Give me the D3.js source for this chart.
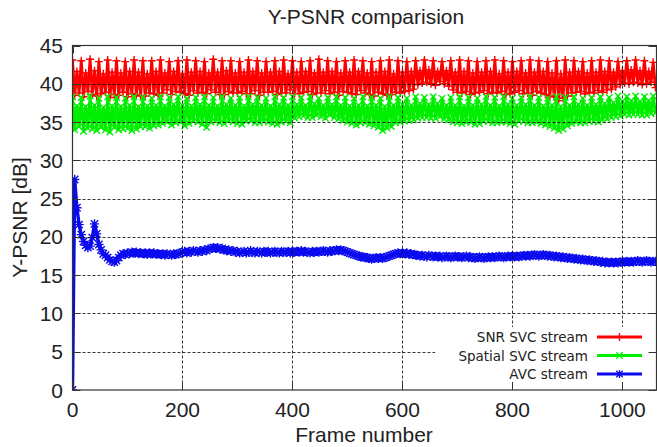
<!DOCTYPE html>
<html>
<head>
<meta charset="utf-8">
<script src="https://cdn.jsdelivr.net/npm/d3@7"></script>
<style>
  body { margin: 0; background: #fff; }
  svg { display: block; font-family: "Liberation Sans", Arial, sans-serif; }
</style>
</head>
<body>
<div id="chart"></div>
<script>
// one sample every 4 frames, frame = 4 * index
const frameStep = 4;

const snrSvc = [
  43.1, 38.5, 41.6, 38.8,  43.0, 38.3, 41.4, 39.0,  43.2, 38.6, 41.7, 38.4,  42.9, 38.7, 41.3, 38.9,
  43.1, 38.2, 41.5, 38.6,  43.0, 38.5, 41.4, 38.9,  42.9, 38.3, 41.6, 38.7,  43.1, 38.6, 41.5, 38.4,
  43.0, 38.4, 41.3, 38.8,  43.0, 38.7, 41.6, 38.5,  43.1, 38.8, 41.4, 39.2,  42.9, 38.6, 41.6, 39.0,
  43.0, 38.9, 41.3, 38.7,  43.1, 38.5, 41.5, 39.1,  43.0, 38.8, 41.6, 38.9,  42.9, 38.7, 41.4, 39.2,
  43.2, 38.9, 41.5, 38.6,  43.0, 38.6, 41.7, 39.0,  43.0, 38.8, 41.4, 38.8,  42.9, 39.0, 41.5, 38.7,
  43.1, 38.7, 41.6, 39.1,  43.0, 38.5, 41.4, 38.9,  42.9, 38.9, 41.5, 39.0,  43.0, 38.6, 41.6, 38.8,
  43.1, 38.8, 41.3, 39.2,  43.0, 38.7, 41.5, 38.7,  42.9, 38.9, 41.6, 39.0,  43.0, 38.6, 41.4, 38.8,
  43.2, 38.8, 41.5, 39.1,  43.0, 38.7, 41.6, 38.9,  42.9, 38.5, 41.4, 39.0,  43.0, 38.9, 41.5, 38.7,
  43.1, 38.6, 41.6, 39.1,  43.0, 38.8, 41.4, 38.6,  42.9, 38.4, 41.5, 38.9,  43.0, 38.7, 41.6, 38.5,
  43.1, 38.6, 41.3, 38.9,  43.0, 38.8, 41.5, 39.0,  42.9, 39.1, 41.6, 39.3,  43.0, 39.9, 41.7, 40.1,
  43.1, 40.2, 41.8, 40.0,  43.0, 39.8, 41.6, 40.3,  42.9, 40.0, 41.7, 39.7,  43.0, 39.2, 41.5, 38.9,
  43.1, 38.8, 41.6, 39.0,  43.0, 38.6, 41.4, 38.8,  42.9, 38.9, 41.5, 39.1,  43.0, 38.7, 41.6, 38.9,
  43.1, 38.8, 41.3, 39.0,  43.0, 38.6, 41.5, 38.7,  42.9, 38.9, 41.6, 39.1,  43.0, 38.7, 41.4, 38.8,
  43.1, 38.5, 41.5, 39.0,  43.0, 38.8, 41.6, 38.6,  42.9, 38.4, 41.4, 38.3,  43.0, 37.8, 41.3, 38.1,
  43.1, 38.4, 41.5, 38.8,  43.0, 38.9, 41.6, 39.0,  42.9, 38.7, 41.4, 38.9,  43.0, 38.8, 41.5, 39.1,
  43.1, 38.9, 41.6, 39.2,  43.0, 39.3, 41.5, 39.6,  42.9, 39.9, 41.7, 40.1,  43.0, 40.0, 41.8, 40.2,
  43.1, 40.1, 41.7, 39.9,  43.0, 40.0, 41.6, 40.2,  42.8, 39.5
];

const spatialSvc = [
  38.3, 34.0, 37.1, 34.4,  38.2, 33.8, 37.0, 34.2,  38.4, 34.1, 37.2, 33.9,  38.1, 34.3, 36.9, 34.0,
  38.3, 33.7, 37.1, 34.3,  38.2, 34.0, 37.0, 34.1,  38.1, 34.2, 37.2, 33.9,  38.3, 34.1, 37.0, 34.4,
  38.2, 34.4, 37.1, 34.2,  38.1, 34.5, 37.2, 34.6,  38.3, 34.8, 37.1, 35.0,  38.2, 34.6, 37.3, 34.9,
  38.3, 35.0, 37.2, 34.5,  38.1, 34.8, 37.1, 35.1,  38.2, 35.0, 37.3, 34.7,  38.3, 34.3, 37.2, 35.0,
  38.2, 35.1, 37.1, 34.9,  38.3, 34.8, 37.3, 35.2,  38.1, 35.0, 37.2, 34.8,  38.2, 34.7, 37.1, 35.1,
  38.3, 35.2, 37.3, 34.9,  38.2, 34.9, 37.2, 35.1,  38.1, 35.0, 37.1, 34.8,  38.3, 34.7, 37.3, 35.0,
  38.2, 35.1, 37.2, 34.9,  38.3, 35.5, 37.3, 35.7,  38.2, 35.8, 37.2, 35.6,  38.3, 35.6, 37.4, 35.9,
  38.1, 35.7, 37.2, 35.5,  38.2, 35.9, 37.3, 35.6,  38.3, 35.4, 37.2, 35.2,  38.2, 35.0, 37.1, 34.8,
  38.1, 34.6, 37.2, 34.9,  38.3, 34.9, 37.1, 34.7,  38.2, 34.5, 37.2, 34.3,  38.1, 33.9, 37.0, 34.2,
  38.3, 34.4, 37.2, 34.9,  38.2, 35.0, 37.3, 35.1,  38.1, 35.2, 37.2, 35.3,  38.3, 35.5, 37.4, 35.6,
  38.2, 35.6, 37.3, 35.5,  38.3, 35.5, 37.4, 35.7,  38.1, 35.4, 37.2, 35.3,  38.2, 35.0, 37.2, 34.9,
  38.3, 34.8, 37.1, 35.0,  38.2, 35.0, 37.2, 34.7,  38.1, 34.8, 37.3, 35.1,  38.3, 35.1, 37.2, 34.9,
  38.2, 34.9, 37.1, 35.0,  38.3, 35.0, 37.3, 34.8,  38.1, 34.7, 37.2, 35.1,  38.2, 35.1, 37.3, 34.9,
  38.3, 34.9, 37.2, 35.0,  38.2, 34.8, 37.1, 34.6,  38.1, 34.4, 37.2, 34.2,  38.3, 33.9, 37.0, 34.1,
  38.2, 34.5, 37.2, 34.8,  38.3, 35.0, 37.3, 34.9,  38.1, 34.9, 37.2, 35.1,  38.2, 35.1, 37.3, 35.0,
  38.3, 35.3, 37.4, 35.4,  38.2, 35.6, 37.5, 35.7,  38.4, 35.8, 37.7, 36.0,  38.3, 35.9, 37.8, 36.0,
  38.4, 36.0, 37.7, 35.9,  38.3, 35.9, 37.8, 36.1,  38.4, 36.2
];

const avcStream = [
  0.0, 27.5, 23.8, 21.6, 20.3, 19.4, 18.9, 18.6, 18.8, 19.9, 21.7, 20.4, 19.0, 18.3, 17.8, 17.6,
  17.3, 17.0, 16.8, 16.7, 16.9, 17.3, 17.6, 17.8,
  17.7, 17.9, 17.8, 18.0, 17.9, 18.0, 17.8, 17.9, 17.8, 17.9, 17.7, 17.9, 17.8, 17.9, 17.7, 17.8,
  17.7, 17.8, 17.6, 17.8, 17.7, 17.6, 17.8, 17.7, 17.8, 17.9,
  18.0, 18.1, 17.9, 18.1, 18.0, 18.2, 18.1, 18.0, 18.2, 18.1, 18.3, 18.2,
  18.4, 18.5, 18.6, 18.5, 18.6, 18.4, 18.5,
  18.3, 18.2, 18.3, 18.1, 18.2, 18.0,
  18.1, 17.9, 18.0, 18.1, 17.9, 18.0, 18.2, 18.0, 17.9, 18.1, 18.0, 17.9, 18.1, 18.0, 18.1, 17.9,
  18.0, 18.1, 18.0, 17.9, 18.1, 18.0, 18.0, 18.1, 17.9, 18.1, 18.0, 18.1, 18.0, 18.2, 18.0, 18.1,
  18.0, 17.9, 18.1, 18.0, 18.1, 18.0, 18.1, 18.2, 18.1, 18.0, 18.2, 18.1, 18.2, 18.3, 18.2,
  18.3, 18.2, 18.1, 18.0,
  17.9, 17.8, 17.7, 17.6,
  17.5, 17.4, 17.4, 17.3, 17.3, 17.2, 17.1, 17.2, 17.3, 17.2, 17.3, 17.2, 17.3,
  17.4, 17.5, 17.6, 17.7, 17.8, 17.9, 17.8, 17.9,
  17.8, 17.9, 17.7, 17.8, 17.7, 17.6,
  17.6, 17.5, 17.6, 17.5, 17.4, 17.6, 17.5, 17.4, 17.5, 17.4, 17.5, 17.3, 17.4, 17.5, 17.4, 17.3,
  17.4, 17.5, 17.4,
  17.4, 17.3, 17.4, 17.5, 17.3, 17.4, 17.3, 17.2, 17.3, 17.4, 17.3, 17.2, 17.3, 17.4, 17.3, 17.4,
  17.3, 17.4, 17.5, 17.4, 17.3, 17.4, 17.5, 17.4, 17.5,
  17.4, 17.5, 17.4, 17.5, 17.6, 17.5, 17.6, 17.5, 17.6, 17.7, 17.6, 17.5, 17.6, 17.7, 17.6,
  17.5, 17.6, 17.5, 17.4, 17.5, 17.4, 17.3, 17.4, 17.3, 17.2, 17.3, 17.2, 17.1, 17.2, 17.1, 17.0,
  17.1, 17.0, 16.9, 17.0, 16.9, 16.8, 16.9, 16.8, 16.7, 16.8, 16.6, 16.7, 16.6, 16.7, 16.6, 16.7,
  16.6, 16.7, 16.8,
  16.7, 16.8, 16.7, 16.8, 16.7, 16.8, 16.9, 16.8, 16.7, 16.8, 16.9, 16.8, 16.7, 16.8, 16.8
];

const seriesNames = ["SNR SVC stream", "Spatial SVC stream", "AVC stream"];
const seriesColors = ["#ff0000", "#00ee00", "#0a0aee"];
const seriesMarkers = ["plus", "cross", "star"];

const xTicks = [0, 200, 400, 600, 800, 1000];
const yTicks = [0, 5, 10, 15, 20, 25, 30, 35, 40, 45];
const xMax = 1062;

const width = 657, height = 447;
const plot = { left: 72.5, right: 656.5, top: 45.5, bottom: 390 };

const svg = d3.select("#chart").append("svg")
  .attr("width", width).attr("height", height);

const x = d3.scaleLinear().domain([0, xMax]).range([plot.left, plot.right]);
const y = d3.scaleLinear().domain([0, 45]).range([plot.bottom, plot.top]);

svg.append("defs").append("clipPath").attr("id", "clip")
  .append("rect")
  .attr("x", plot.left).attr("y", plot.top - 6)
  .attr("width", plot.right - plot.left).attr("height", plot.bottom - plot.top + 6);

function markerPath(kind, px, py, s = 4) {
  const c = s * 0.8;
  const plus = `M${px - s},${py}h${2 * s}M${px},${py - s}v${2 * s}`;
  const cross = `M${px - c},${py - c}l${2 * c},${2 * c}M${px - c},${py + c}l${2 * c},${-2 * c}`;
  if (kind === "plus") return plus;
  if (kind === "cross") return cross;
  return plus + cross;
}

const series = [snrSvc, spatialSvc, avcStream].map((values, i) => ({
  name: seriesNames[i],
  color: seriesColors[i],
  marker: seriesMarkers[i],
  points: values.map((v, k) => ({ frame: k * frameStep, value: v }))
}));

const line = d3.line().x(d => x(d.frame)).y(d => y(d.value));

const dataGroup = svg.append("g").attr("clip-path", "url(#clip)");
series.forEach(s => {
  const isAvc = s.marker === "star";
  dataGroup.append("path")
    .attr("d", line(s.points))
    .attr("fill", "none")
    .attr("stroke", s.color)
    .attr("stroke-width", isAvc ? 3.4 : 2.9)
    .attr("stroke-linejoin", "round");
  dataGroup.append("path")
    .attr("d", s.points.map(p => markerPath(s.marker, x(p.frame), y(p.value), isAvc ? 4.6 : 4)).join(""))
    .attr("fill", "none")
    .attr("stroke", s.color)
    .attr("stroke-width", 1.4);
});

// dashed grid, drawn over the data like gnuplot's "grid front"
const grid = svg.append("g")
  .attr("stroke", "#111").attr("stroke-width", 1)
  .attr("stroke-dasharray", "3,2").attr("opacity", 0.85);
grid.selectAll(".gx").data(xTicks.filter(t => t > 0)).join("line")
  .attr("x1", d => Math.round(x(d)) + 0.5).attr("x2", d => Math.round(x(d)) + 0.5)
  .attr("y1", plot.top).attr("y2", plot.bottom);
grid.selectAll(".gy").data(yTicks.filter(t => t > 0 && t < 45)).join("line")
  .attr("x1", plot.left).attr("x2", plot.right)
  .attr("y1", d => Math.round(y(d)) + 0.5).attr("y2", d => Math.round(y(d)) + 0.5);

// legend with opaque background
const legend = svg.append("g");
legend.append("rect")
  .attr("x", 435).attr("y", 327).attr("width", 217).attr("height", 57)
  .attr("fill", "#fff");
series.forEach((s, i) => {
  const ly = 337 + i * 18.5;
  legend.append("text")
    .attr("x", 588).attr("y", ly + 5)
    .attr("text-anchor", "end")
    .attr("font-family", "'DejaVu Sans', sans-serif")
    .attr("font-size", 13.5).attr("fill", "#222")
    .text(s.name);
  legend.append("line")
    .attr("x1", 597).attr("x2", 642).attr("y1", ly).attr("y2", ly)
    .attr("stroke", s.color).attr("stroke-width", 3);
  legend.append("path")
    .attr("d", markerPath(s.marker, 619.5, ly))
    .attr("fill", "none").attr("stroke", s.color).attr("stroke-width", 1.3);
});

// border and mirrored ticks
svg.append("rect")
  .attr("x", plot.left).attr("y", plot.top)
  .attr("width", plot.right - plot.left).attr("height", plot.bottom - plot.top)
  .attr("fill", "none").attr("stroke", "#333").attr("stroke-width", 1.2);

const ticks = svg.append("g").attr("stroke", "#333").attr("stroke-width", 1);
xTicks.forEach(t => {
  const px = Math.round(x(t)) + 0.5;
  ticks.append("line").attr("x1", px).attr("x2", px).attr("y1", plot.bottom).attr("y2", plot.bottom - 8);
  ticks.append("line").attr("x1", px).attr("x2", px).attr("y1", plot.top).attr("y2", plot.top + 8);
});
yTicks.forEach(t => {
  const py = Math.round(y(t)) + 0.5;
  ticks.append("line").attr("x1", plot.left).attr("x2", plot.left + 8).attr("y1", py).attr("y2", py);
  ticks.append("line").attr("x1", plot.right).attr("x2", plot.right - 8).attr("y1", py).attr("y2", py);
});

// tick labels
svg.append("g").selectAll("text").data(xTicks).join("text")
  .attr("x", d => x(d)).attr("y", 417)
  .attr("text-anchor", "middle").attr("font-size", 21).attr("fill", "#222")
  .text(d => d);
svg.append("g").selectAll("text").data(yTicks).join("text")
  .attr("x", 63).attr("y", d => y(d)).attr("dy", "0.36em")
  .attr("text-anchor", "end").attr("font-size", 21).attr("fill", "#222")
  .text(d => d);

// titles
svg.append("text")
  .attr("x", 366).attr("y", 24)
  .attr("text-anchor", "middle").attr("font-size", 21).attr("fill", "#222")
  .text("Y-PSNR comparision");
svg.append("text")
  .attr("x", 364).attr("y", 442)
  .attr("text-anchor", "middle").attr("font-size", 21).attr("fill", "#222")
  .text("Frame number");
svg.append("text")
  .attr("transform", "translate(27,217.5) rotate(-90)")
  .attr("text-anchor", "middle").attr("font-size", 21).attr("fill", "#222")
  .text("Y-PSNR [dB]");
</script>
</body>
</html>
